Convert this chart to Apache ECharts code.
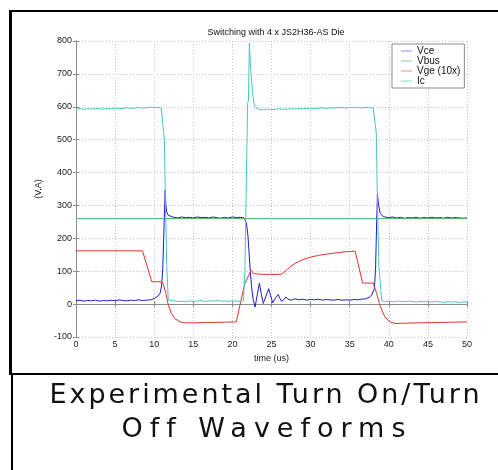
<!DOCTYPE html>
<html>
<head>
<meta charset="utf-8">
<style>
html,body{margin:0;padding:0;background:#fff;}
#wrap{position:relative;width:498px;height:470px;overflow:hidden;}
#chart{width:498px;height:470px;}
.cap{position:absolute;width:532px;text-align:center;font-family:"DejaVu Sans",sans-serif;font-size:27px;line-height:32px;color:#111;white-space:nowrap;}
</style>
<script src="https://cdn.jsdelivr.net/npm/echarts@6/dist/echarts.min.js"></script>
</head>
<body>
<div id="wrap">
<div id="chart"></div>
<div id="cap1" class="cap" style="left:-3px;top:378px;letter-spacing:2.95px;padding-left:3px;"></div>
<div id="cap2" class="cap" style="left:-6px;top:412px;letter-spacing:7.0px;padding-left:7px;"></div>
</div>
<script>
// ---- data (time in us, value in V or A) ----
const chartTitle = 'Switching with 4 x JS2H36-AS Die';
const caption1 = 'Experimental Turn On/Turn';
const caption2 = 'Off Waveforms';
const seriesNames = ['Vce', 'Vbus', 'Vge (10x)', 'Ic'];
const xTicks = [0, 5, 10, 15, 20, 25, 30, 35, 40, 45, 50];
const yTicks = [-100, 0, 100, 200, 300, 400, 500, 600, 700, 800];

const vce = [[0,10],[0.5,12],[1,9],[1.5,11],[2,10],[2.5,12],[3,9],[3.5,11],[4,10],[4.5,12],[5,10],[5.5,13],[6,11],[6.5,10],[7,12],[7.5,11],[8,13],[8.5,11],[9,12],[9.5,13],[10,17],[10.5,25],[10.75,33],[10.95,55],[11.1,110],[11.25,230],[11.4,346],[11.5,300],[11.6,280],[11.8,270],[12,266],[12.5,264],[13,262],[13.5,265],[14,263],[14.5,264],[15,262],[15.5,265],[16,263],[16.5,264],[17,262],[17.5,265],[18,263],[18.5,261],[19,264],[19.5,262],[20,265],[20.5,263],[21,264],[21.5,262],[21.65,258],[21.8,246],[22,205],[22.25,113],[22.45,53],[22.65,15],[22.9,-9],[23.15,25],[23.45,64],[23.7,30],[23.95,2],[24.3,25],[24.65,47],[24.9,25],[25.15,4],[25.5,18],[25.85,29],[26.1,17],[26.3,8],[26.6,15],[26.85,22],[27.1,15],[27.5,12],[28,16],[28.5,13],[29,15],[29.5,12],[30,14],[30.5,13],[31,15],[31.5,12],[32,14],[32.5,13],[33,12],[33.5,14],[34,12],[34.5,13],[35,12],[35.5,14],[36,13],[36.5,15],[37,16],[37.5,21],[37.8,27],[38.15,47],[38.3,103],[38.45,250],[38.55,334],[38.7,300],[38.9,276],[39.2,268],[39.5,265],[40,263],[40.5,265],[41,262],[41.5,264],[42,261],[42.5,263],[43,262],[43.5,264],[44,261],[44.5,263],[45,262],[45.5,264],[46,262],[46.5,263],[47,261],[47.5,264],[48,262],[48.5,263],[49,262],[49.5,261],[50,262]];

const vbus = [[0,260],[50,260]];

const vge = [[0,162],[4,162],[8.5,162],[9.7,68],[10.95,68],[11.2,58],[11.5,32],[11.8,-3],[12.2,-28],[12.65,-44],[13.3,-54],[13.8,-57],[15,-57],[17,-56],[19,-55],[20.5,-54],[20.75,-50],[21.2,22],[21.6,63],[22,83],[22.4,103],[22.7,93],[23.5,91],[25,90],[26.3,91],[27,105],[27.5,115],[28,124],[29,135],[30,143],[31,148],[32,152],[33,155],[34,158],[35,160],[35.7,161],[36.65,64],[38,64],[38.45,32],[38.8,2],[39.1,-18],[39.5,-39],[40.15,-54],[40.8,-59],[42,-58],[44,-57],[46,-56],[48,-55],[50,-54]];

const ic = [[0,593],[0.5,595],[1,592],[1.5,594],[2,593],[2.5,595],[3,594],[3.5,593],[4,595],[4.5,594],[5,596],[5.5,594],[6,595],[6.5,597],[7,595],[7.5,596],[8,598],[8.5,596],[9,597],[9.5,599],[10,597],[10.5,598],[10.9,596],[11.1,590],[11.3,500],[11.45,300],[11.6,120],[11.8,12],[12,8],[12.5,10],[13,8],[13.5,9],[14,7],[14.5,10],[15,8],[15.5,9],[16,11],[16.5,8],[17,10],[17.5,9],[18,11],[18.5,9],[19,10],[19.5,8],[20,10],[20.5,9],[21,8],[21.4,10],[21.6,100],[21.8,400],[21.95,610],[22.05,620],[22.17,794],[22.3,730],[22.45,680],[22.6,640],[22.75,612],[22.9,600],[23.2,594],[23.5,592],[24,591],[24.5,593],[25,591],[25.5,592],[26,594],[26.5,592],[27,593],[27.5,594],[28,593],[28.5,595],[29,594],[29.5,595],[30,596],[30.5,594],[31,596],[31.5,597],[32,595],[32.5,597],[33,596],[33.5,598],[34,597],[34.5,596],[35,598],[35.5,597],[36,598],[36.5,596],[37,598],[37.5,597],[38,597],[38.25,593],[38.4,520],[38.55,300],[38.75,110],[39.1,10],[39.5,8],[40,9],[40.5,7],[41,9],[41.5,8],[42,7],[42.5,9],[43,8],[43.5,6],[44,8],[44.5,7],[45,9],[45.5,6],[46,8],[46.5,7],[47,5],[47.5,8],[48,6],[48.5,7],[49,5],[49.5,7],[50,6]];

const colors = ['#1c1ccc', '#4fb06c', '#e2322c', '#44c8c0'];
const legendColors = ['#8c8ce6', '#8fd0a4', '#ec8a86', '#8adcd6'];
const seriesData = [vce, vbus, vge, ic];

document.getElementById('cap1').textContent = caption1;
document.getElementById('cap2').textContent = caption2;

// ---- chart ----
const chart = echarts.init(document.getElementById('chart'), null, {renderer: 'canvas'});
const FONT = 'Liberation Sans, Arial, sans-serif';
const tickColor = '#222';

function mkX(pos, showLabel) {
  return {
    type: 'value', position: pos, min: xTicks[0], max: xTicks[xTicks.length - 1], interval: 5,
    name: showLabel ? 'time (us)' : '', nameLocation: 'middle', nameGap: 15,
    nameTextStyle: {fontFamily: FONT, fontSize: 9, color: tickColor},
    axisLine: {show: true, lineStyle: {color: '#8c8c8c', width: 1}},
    axisTick: {show: true, inside: true, length: 3, lineStyle: {color: '#8c8c8c'}},
    axisLabel: {show: showLabel, fontFamily: FONT, fontSize: 9, color: tickColor, margin: 3},
    splitLine: {show: showLabel, lineStyle: {color: '#c4c4c4', type: [1, 2], width: 1}}
  };
}
function mkY(pos, showLabel) {
  return {
    type: 'value', position: pos, min: yTicks[0], max: yTicks[yTicks.length - 1], interval: 100,
    name: showLabel ? '(V,A)' : '', nameLocation: 'middle', nameGap: 19, nameRotate: 90,
    nameTextStyle: {fontFamily: FONT, fontSize: 9, color: tickColor},
    axisLine: {show: true, lineStyle: {color: '#8c8c8c', width: 1}},
    axisTick: {show: true, inside: true, length: 3, lineStyle: {color: '#8c8c8c'}},
    axisLabel: {show: showLabel, fontFamily: FONT, fontSize: 9, color: tickColor, margin: 4},
    splitLine: {show: showLabel, lineStyle: {color: '#c4c4c4', type: [1, 2], width: 1}}
  };
}

const option = {
  animation: false,
  backgroundColor: 'transparent',
  title: {
    text: chartTitle, left: 271, top: 23, textAlign: 'center',
    textStyle: {fontFamily: FONT, fontSize: 9, fontWeight: 'normal', color: '#111'}
  },
  grid: {left: 76, right: 31, top: 41, bottom: 133, containLabel: false},
  xAxis: [mkX('bottom', true), mkX('top', false)],
  yAxis: [mkY('left', true), mkY('right', false)],
  legend: {
    orient: 'vertical', left: 392, top: 44,
    padding: [2, 4, 2, 9], itemGap: 0, itemWidth: 11, itemHeight: 10,
    icon: 'path://M0,0 L11,0 L11,1 L0,1 Z', symbolKeepAspect: true,
    backgroundColor: '#fff', borderColor: '#8c8c8c', borderWidth: 1, borderRadius: 0,
    textStyle: {fontFamily: FONT, fontSize: 10, color: '#111'},
    data: seriesNames.map((n, i) => ({name: n, itemStyle: {color: legendColors[i]}}))
  },
  series: seriesNames.map((n, i) => ({
    name: n, type: 'line', data: seriesData[i], xAxisIndex: 0, yAxisIndex: 0,
    symbol: 'none', showSymbol: false,
    lineStyle: {color: colors[i], width: 1}, itemStyle: {color: colors[i]},
    z: 2 + i
  })),
  graphic: [
    {type: 'rect', shape: {x: 9, y: 10, width: 3, height: 365}, style: {fill: '#000'}, silent: true},
    {type: 'rect', shape: {x: 9, y: 10, width: 489, height: 2}, style: {fill: '#000'}, silent: true},
    {type: 'rect', shape: {x: 9, y: 373, width: 489, height: 2}, style: {fill: '#000'}, silent: true},
    {type: 'rect', shape: {x: 11, y: 375, width: 2, height: 95}, style: {fill: '#000'}, silent: true}
  ]
};
chart.setOption(option);
</script>
</body>
</html>
